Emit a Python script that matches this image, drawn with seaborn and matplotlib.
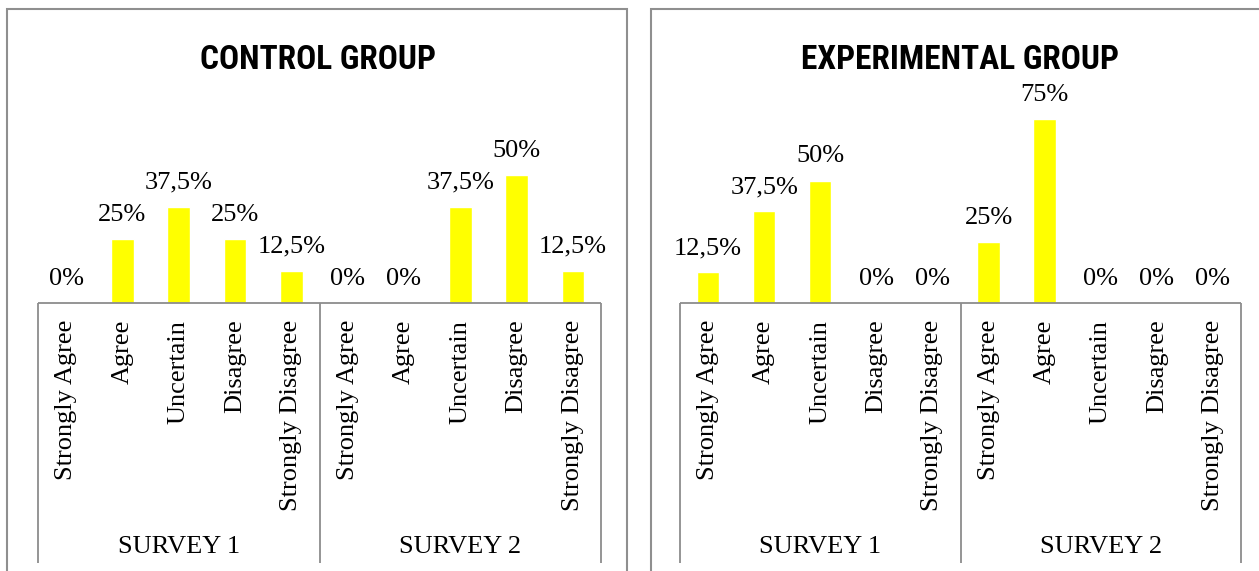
import matplotlib
matplotlib.use("Agg")
import matplotlib.pyplot as plt
import matplotlib.transforms as mtransforms
from matplotlib.patches import Rectangle
import pandas as pd
import seaborn as sns

# Survey responses (percent of students) per group and survey round
responses = ["Strongly Agree", "Agree", "Uncertain", "Disagree", "Strongly Disagree"]
surveys = ["SURVEY 1", "SURVEY 2"]
control_survey1 = [0, 25, 37.5, 25, 12.5]
control_survey2 = [0, 0, 37.5, 50, 12.5]
experimental_survey1 = [12.5, 37.5, 50, 0, 0]
experimental_survey2 = [25, 75, 0, 0, 0]
group_titles = ["CONTROL GROUP", "EXPERIMENTAL GROUP"]

sns.set_theme(style="white")
plt.rcParams["font.family"] = ["Liberation Serif", "DejaVu Serif"]

W, H, DPI = 1259, 571, 100
fig = plt.figure(figsize=(W / DPI, H / DPI), dpi=DPI)
fig.patch.set_facecolor("white")

BAR_COLOR = "#FFFF00"
LINE_COLOR = "#8c8c8c"
TEXT_SIZE = 19


def px_box(x0, x1, y_top, y_bottom):
    """Axes rectangle from pixel edges measured from the top-left corner."""
    return [x0 / W, (H - y_bottom) / H, (x1 - x0) / W, (y_bottom - y_top) / H]


def make_frame(ax_rows):
    rows = []
    for survey, values in zip(surveys, ax_rows):
        for resp, val in zip(responses, values):
            rows.append({"slot": f"{survey} | {resp}", "response": resp,
                         "survey": survey, "pct": val})
    return pd.DataFrame(rows)


def fmt(v):
    return f"{v:g}".replace(".", ",") + "%"


def draw_panel(ax, df, ymax):
    sns.barplot(data=df, x="slot", y="pct", color=BAR_COLOR, saturation=1,
                width=0.4, ax=ax, errorbar=None)
    n = len(df)
    ax.set_xlim(-0.5, n - 0.5)
    ax.set_ylim(0, ymax)
    ax.set_yticks([])
    ax.set_xlabel("")
    ax.set_ylabel("")
    ax.set_xticks(range(n))
    ax.set_xticklabels(df["response"], rotation=90, fontsize=TEXT_SIZE,
                       color="black")
    ax.tick_params(axis="x", length=0, pad=12)
    for s in ax.spines.values():
        s.set_visible(False)
    ax.patch.set_alpha(0)

    # value labels above each bar
    for i, v in enumerate(df["pct"]):
        ax.annotate(fmt(v), xy=(i, v), xytext=(0, 13), textcoords="offset points",
                    ha="center", va="baseline", fontsize=TEXT_SIZE, color="black",
                    annotation_clip=False)

    # category axis box: baseline and survey separators
    trans = mtransforms.blended_transform_factory(ax.transData, ax.transAxes)
    ax_h_px = ax.get_position().height * H
    depth = -(563 - 303) / ax_h_px
    ax.plot([-0.5, n - 0.5], [0, 0], transform=trans, color=LINE_COLOR,
            lw=1.3, clip_on=False, solid_capstyle="butt")
    per = len(responses)
    for k in range(len(surveys) + 1):
        xb = k * per - 0.5
        ax.plot([xb, xb], [0, depth], transform=trans, color=LINE_COLOR,
                lw=1.3, clip_on=False, solid_capstyle="butt")
    for k, survey in enumerate(surveys):
        xc = k * per + (per - 1) / 2
        ax.text(xc, -(547 - 303) / ax_h_px, survey, transform=trans,
                ha="center", va="center", fontsize=TEXT_SIZE, color="black")


# outer chart frames
for x0, x1 in [(7, 627), (651, 1280)]:
    fig.patches.append(Rectangle((x0 / W, -0.05), (x1 - x0) / W, (H - 9) / H + 0.05,
                                 transform=fig.transFigure, fill=False,
                                 edgecolor="#8f8f8f", lw=1.5, zorder=0))

ax_left = fig.add_axes(px_box(38, 601, 90, 303))
ax_right = fig.add_axes(px_box(680, 1241, 90, 303))

draw_panel(ax_left, make_frame([control_survey1, control_survey2]), 213 / 2.565)
draw_panel(ax_right, make_frame([experimental_survey1, experimental_survey2]), 213 / 2.45)

title_font = dict(family=["Roboto Condensed", "DejaVu Sans Condensed",
                          "Liberation Sans Narrow", "Liberation Sans"],
                  weight="bold", stretch="condensed", fontsize=24, color="black")
fig.text(318 / W, (H - 69) / H, group_titles[0], ha="center", va="baseline", **title_font)
fig.text(960 / W, (H - 69) / H, group_titles[1], ha="center", va="baseline", **title_font)

fig.savefig("out.png", dpi=DPI, facecolor="white")
